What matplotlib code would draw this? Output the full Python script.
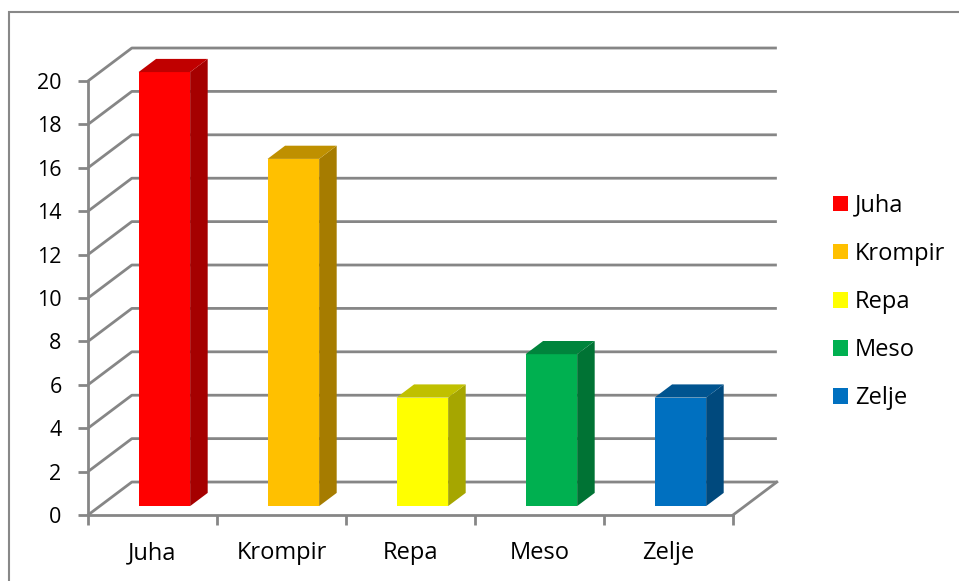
import matplotlib.pyplot as plt
from matplotlib.patches import Polygon, Rectangle, Patch

# Podaci
categories = ['Juha', 'Krompir', 'Repa', 'Meso', 'Zelje']
values = [20, 16, 5, 7, 5]
y_ticks = list(range(0, 21, 2))

# Boje: prednja strana, bočna strana, vrh
front_colors = ['#FF0000', '#FFC000', '#FFFF00', '#00B050', '#0070C0']
side_colors = ['#A50000', '#A67C00', '#A6A600', '#007334', '#00497D']
top_colors = ['#C00000', '#BF9000', '#C0C000', '#00843C', '#005490']

plt.rcParams['font.family'] = ['Open Sans', 'DejaVu Sans']

fig = plt.figure(figsize=(9.59, 5.81), dpi=100)
ax = fig.add_axes([88 / 959, 66 / 581, 645 / 959, 434 / 581])
n = len(categories)
ax.set_xlim(0, n)
ax.set_ylim(0, 20)

grid = '#868686'
dx, dy = 0.34, 1.52        # pomak dubine (u jedinicama podataka)
z0, z1 = 0.27, 0.67        # dubina stupaca
w = 0.4                    # širina stupca

# Zidovi i mreža
for t in y_ticks:
    ax.plot([0, dx, n + dx], [t, t + dy, t + dy], color=grid, lw=2,
            clip_on=False, zorder=1, solid_capstyle='butt')
# Desni rub poda
ax.plot([n, n + dx], [0, dy], color=grid, lw=2, clip_on=False, zorder=1)

# 3D stupci
ddx, ddy = (z1 - z0) * dx, (z1 - z0) * dy
for i, v in enumerate(values):
    x0 = i + 0.5 - w / 2 + z0 * dx
    y0 = z0 * dy
    ax.add_patch(Rectangle((x0, y0), w, v, facecolor=front_colors[i],
                           edgecolor='none', clip_on=False, zorder=3))
    side = [(x0 + w, y0), (x0 + w + ddx, y0 + ddy),
            (x0 + w + ddx, y0 + v + ddy), (x0 + w, y0 + v)]
    ax.add_patch(Polygon(side, closed=True, facecolor=side_colors[i],
                         edgecolor='none', clip_on=False, zorder=3))
    top = [(x0, y0 + v), (x0 + w, y0 + v),
           (x0 + w + ddx, y0 + v + ddy), (x0 + ddx, y0 + v + ddy)]
    ax.add_patch(Polygon(top, closed=True, facecolor=top_colors[i],
                         edgecolor='none', clip_on=False, zorder=3))

# Osi
for s in ['top', 'right']:
    ax.spines[s].set_visible(False)
for s in ['left', 'bottom']:
    ax.spines[s].set_color(grid)
    ax.spines[s].set_linewidth(2)
ax.set_facecolor('none')

ax.set_yticks(y_ticks)
ax.set_yticklabels([str(t) for t in y_ticks])
ax.tick_params(axis='y', length=7, width=2, color=grid, pad=12,
               labelsize=15.5, labelcolor='black')

ax.set_xticks(range(n + 1))
ax.set_xticklabels([])
ax.tick_params(axis='x', which='major', length=7, width=2, color=grid)
ax.set_xticks([i + 0.5 for i in range(n)], minor=True)
ax.set_xticklabels(categories, minor=True)
ax.tick_params(axis='x', which='minor', length=0, pad=19,
               labelsize=17, labelcolor='black')

# Legenda
handles = [Patch(facecolor=c, edgecolor='none', label=l)
           for c, l in zip(front_colors, categories)]
fig.legend(handles=handles, loc='center left',
           bbox_to_anchor=(833 / 959, 1 - 302 / 581), frameon=False,
           fontsize=17, handlelength=0.64, handleheight=0.64,
           handletextpad=0.3, labelspacing=1.02, borderpad=0,
           borderaxespad=0)

# Okvir grafikona
fig.patches.append(Rectangle((9 / 959, -0.1), 2, 1 - 12 / 581 + 0.1,
                             transform=fig.transFigure, fill=False,
                             edgecolor='#888888', lw=1.5))

fig.savefig('out.png', dpi=100, facecolor='white')
